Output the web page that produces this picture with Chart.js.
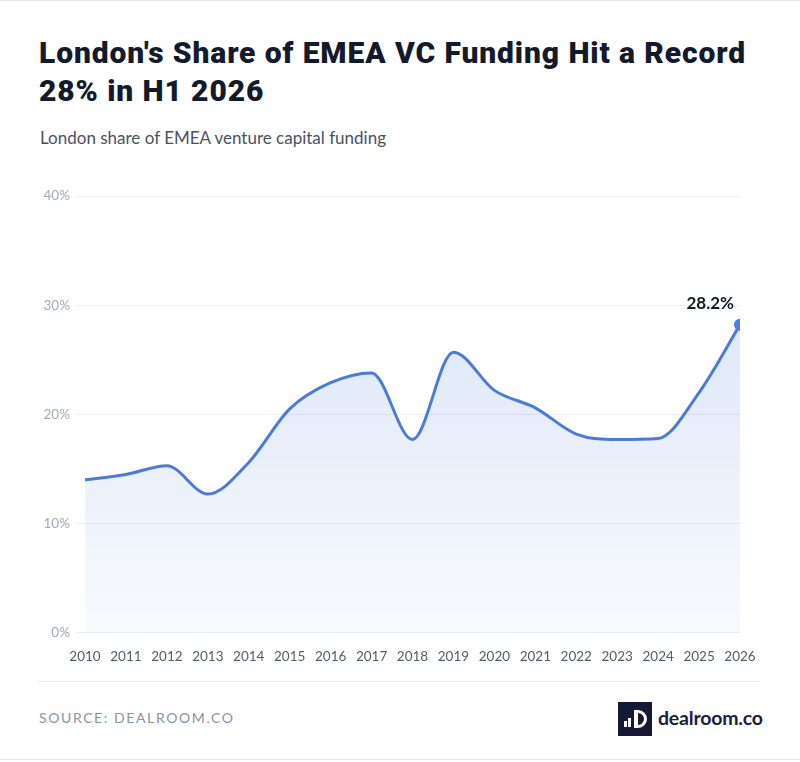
<!DOCTYPE html>
<html>
<head>
<meta charset="utf-8">
<script src="https://cdn.jsdelivr.net/npm/chart.js@4.4.1/dist/chart.umd.min.js"></script>
<style>
  html, body { margin: 0; padding: 0; background: #fff; }
  body { width: 800px; height: 762px; position: relative; overflow: hidden; font-family: Lato, "Noto Sans", sans-serif; }
  .frame { position: absolute; left: 0; top: 0; width: 800px; height: 760px; border-top: 1px solid #e6e8ec; border-bottom: 1px solid #e6e8ec; box-sizing: border-box; }
  h1 { position: absolute; left: 39px; top: 34px; margin: 0; white-space: nowrap; font-family: Roboto, Lato, sans-serif; font-size: 30px; line-height: 38px; font-weight: 900; color: #131a2c; letter-spacing: 0.9px; }
  .sub { position: absolute; left: 40px; top: 127px; margin: 0; font-size: 17px; color: #4b5263; }
  .wrap { position: absolute; left: 0; top: 170px; width: 800px; height: 509px; }
  .rule { position: absolute; left: 38px; top: 681px; width: 722px; height: 1px; background: #e8eaee; }
  .src { position: absolute; left: 39px; top: 709px; font-size: 14px; letter-spacing: 1.6px; color: #8a93a3; }
  .logo { position: absolute; left: 618px; top: 702px; width: 34px; height: 34px; background: #141a36; }
  .logo i { position: absolute; bottom: 9px; width: 3px; background: #fff; }
  .logo b { position: absolute; left: 16px; top: 8px; height: 18px; width: 13px; border: 3.5px solid #fff; border-left-width: 4px; border-radius: 0 9px 9px 0; box-sizing: border-box; }
  .brand { position: absolute; left: 658px; top: 706px; font-size: 19.5px; font-weight: 700; color: #1a2040; letter-spacing: -0.2px; }
</style>
</head>
<body>
<div class="frame"></div>
<h1 id="title">London's Share of EMEA VC Funding Hit a Record<br>28% in H1 2026</h1>
<p class="sub">London share of EMEA venture capital funding</p>
<div class="wrap"><canvas id="myChart"></canvas></div>
<div class="rule"></div>
<div class="src">SOURCE: DEALROOM.CO</div>
<div class="logo"><i style="left:6px;height:6px"></i><i style="left:10px;height:9px"></i><b></b></div>
<div class="brand">dealroom.co</div>

<script>
// 年
const years = [2010, 2011, 2012, 2013, 2014, 2015, 2016, 2017, 2018,
    2019, 2020, 2021, 2022, 2023, 2024, 2025, 2026];

// ロンドンのシェア(%)
const shares = [14.0, 14.5, 15.3, 12.7, 15.6, 20.5, 22.9, 23.8, 17.7,
    25.7, 22.2, 20.6, 18.2, 17.7, 17.8, 22.0, 28.2];

// 縦軸の目盛り
const yTicks = [0, 10, 20, 30, 40];

const lastIndex = shares.length - 1;

// 最後の点にラベルを書くプラグイン
const lastLabel = {
    id: 'lastLabel',
    afterDatasetsDraw(chart) {
        const pt = chart.getDatasetMeta(0).data[lastIndex];
        const c = chart.ctx;
        c.save();
        c.font = '700 17px Lato, "Noto Sans", sans-serif';
        c.fillStyle = '#111827';
        c.textAlign = 'right';
        c.textBaseline = 'middle';
        c.fillText(shares[lastIndex].toFixed(1) + '%', pt.x - 6, pt.y - 21);
        c.restore();
    }
};

const data = {
    datasets: [{
        label: 'London share',
        data: years.map((y, i) => ({ x: y, y: shares[i] })),
        borderColor: '#4a7bd8',
        borderWidth: 3,
        cubicInterpolationMode: 'monotone',
        fill: 'origin',
        backgroundColor: (ctx) => {
            const area = ctx.chart.chartArea;
            if (!area) return 'rgba(74,123,216,0.12)';
            const g = ctx.chart.ctx.createLinearGradient(0, area.top, 0, area.bottom);
            g.addColorStop(0, 'rgba(74,123,216,0.23)');
            g.addColorStop(1, 'rgba(74,123,216,0.04)');
            return g;
        },
        pointRadius: (ctx) => ctx.dataIndex === lastIndex ? 6 : 0,
        pointHoverRadius: 0,
        pointBackgroundColor: '#4b80e2',
        pointBorderWidth: 0,
    }]
};

const config = {
    type: 'line',
    data: data,
    plugins: [lastLabel],
    options: {
        responsive: true,
        maintainAspectRatio: false,
        animation: false,
        layout: { padding: { top: 26, right: 60, bottom: 6, left: 0 } },
        plugins: { legend: { display: false }, tooltip: { enabled: false } },
        scales: {
            x: {
                type: 'linear',
                min: 2009.78,
                max: 2026,
                grid: { display: false },
                border: { display: false },
                afterBuildTicks: (axis) => { axis.ticks = years.map(v => ({ value: v })); },
                ticks: {
                    autoSkip: false,
                    maxRotation: 0,
                    padding: 8,
                    color: '#555c69',
                    font: { family: 'Lato, "Noto Sans", sans-serif', size: 13.5 },
                    callback: (v) => String(v)
                }
            },
            y: {
                min: 0,
                max: 40,
                afterFit: (axis) => { axis.width = 76; },
                afterBuildTicks: (axis) => { axis.ticks = yTicks.map(v => ({ value: v })); },
                grid: { color: '#eceef2', drawTicks: false, lineWidth: 1 },
                border: { display: false },
                ticks: {
                    padding: 6,
                    color: '#a3a9b5',
                    font: { family: 'Lato, "Noto Sans", sans-serif', size: 13.5 },
                    callback: (v) => v + '%'
                }
            }
        }
    }
};

const myChart = new Chart(document.getElementById('myChart'), config);
</script>
</body>
</html>
